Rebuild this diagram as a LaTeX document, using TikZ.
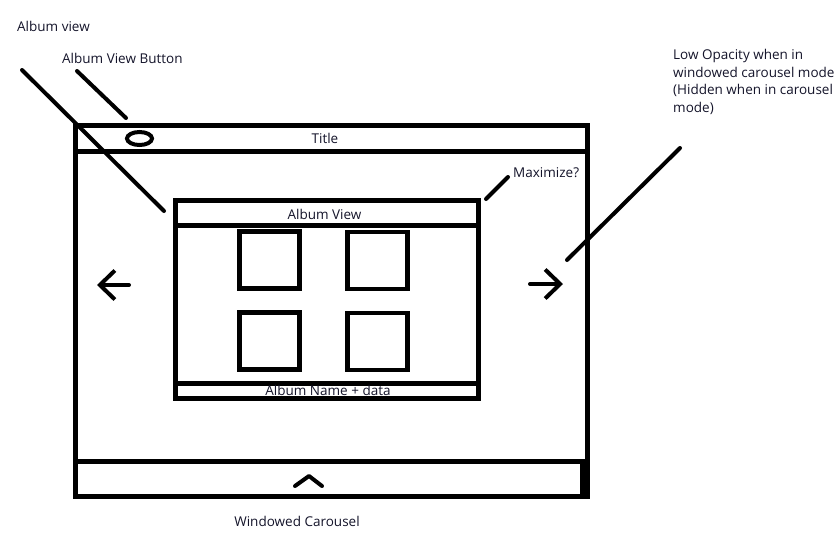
\documentclass[tikz,border=0pt]{standalone}
\usepackage{fontspec}
\setmainfont{Open Sans}
\usetikzlibrary{arrows.meta}
\definecolor{inkdark}{HTML}{14142A}

\begin{document}
\begin{tikzpicture}[x=1pt, y=-1pt,
    frame/.style={draw, line width=5pt},
    cell/.style={draw, line width=4.5pt},
    lead/.style={line width=4pt, line cap=round, line join=round},
    arr/.style={-{Straight Barb[length=15pt, width=29pt]}, line width=4pt, line cap=round},
    lbl/.style={font=\fontsize{13.5}{17.5}\selectfont, text=inkdark, inner sep=0pt}
  ]
  \useasboundingbox (0,0) rectangle (840,547);

  % window frame, title bar and carousel bar
  \draw[frame] (75.5,125.5) rectangle (587,496.5);
  \draw[frame] (75.5,151) -- (587,151);
  \draw[frame] (75.5,461.5) rectangle (582,496.5);
  \draw[line width=4pt] (139.5,138.5) ellipse (12.5pt and 6.5pt);
  \node[lbl, anchor=base] (title) at (325,143) {Title};

  % album view
  \draw[frame] (175.5,200.5) rectangle (478,398.5);
  \draw[frame] (175.5,225) -- (478,225);
  \draw[frame] (175.5,383.5) -- (478,383.5);
  \foreach \x/\y in {239.5/231.5, 347.5/232, 239.5/312.5, 347.5/313}
    \draw[cell] (\x,\y) rectangle ++(60,57);
  \node[lbl, anchor=base] (avHead) at (324.5,219) {Album View};
  \node[lbl, anchor=base] (avFoot) at (328,395) {Album Name + data};

  % paging arrows and carousel toggle
  \coordinate (lftS) at (129,285);
  \coordinate (lftE) at (97,285);
  \coordinate (rgtS) at (530,284);
  \coordinate (rgtE) at (563,284);
  \draw[arr] (lftS) -- (lftE);
  \draw[arr] (rgtS) -- (rgtE);
  \draw[lead] (295,486) -- (309,476) -- (322,486);
  \node[lbl, anchor=base] (carLbl) at (297,526) {Windowed Carousel};

  % notes
  \node[lbl, anchor=base west] (avLbl) at (17,31) {Album view};
  \node[lbl, anchor=base west] (avbLbl) at (62,63) {Album View Button};
  \node[lbl, anchor=base west] (maxLbl) at (513,177) {Maximize?};
  \node[lbl, anchor=north west, align=left] (opLbl) at (673,49.5)
    {Low Opacity when in\\windowed carousel mode\\(Hidden when in carousel\\mode)};

  \coordinate (avA) at (22,70);
  \coordinate (avB) at (164,211);
  \coordinate (avbA) at (77,71);
  \coordinate (avbB) at (126,118);
  \coordinate (maxA) at (486,199);
  \coordinate (maxB) at (508,177);
  \coordinate (opA) at (680,148);
  \coordinate (opB) at (567,260);
  \draw[lead] (avA) -- (avB);
  \draw[lead] (avbA) -- (avbB);
  \draw[lead] (maxA) -- (maxB);
  \draw[lead] (opA) -- (opB);
\end{tikzpicture}
\end{document}
